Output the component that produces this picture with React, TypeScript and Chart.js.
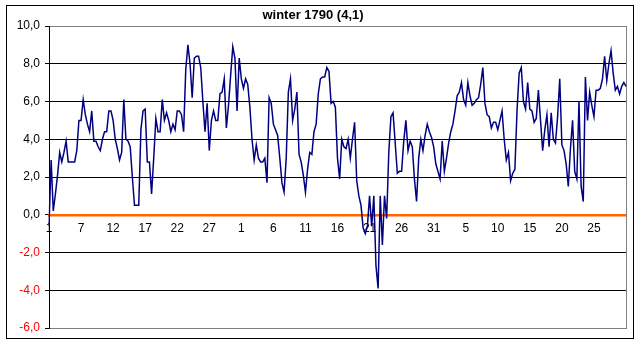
import React, { useEffect, useRef } from "react";
import { Chart, registerables } from "chart.js";

Chart.register(...registerables);

const chartTitle = "winter 1790 (4,1)";

// x-axis tick labels, one every 15 readings (3 readings a day)
const tickLabels = ["1", "7", "12", "17", "22", "27", "1", "6", "11", "16", "21", "26", "31", "5", "10", "15", "20", "25"];
const readingsPerLabel = 15;

// temperature readings (°)
const decemberTemps = [
  -0.6, 2.9, 0.2, 1.1, 2.1, 3.3, 2.8, 3.3, 3.9, 2.8,
  2.8, 2.8, 2.8, 3.4, 5.0, 5.0, 6.1, 5.3, 4.8, 4.4,
  5.5, 3.9, 3.9, 3.6, 3.4, 4.0, 4.4, 4.4, 5.5, 5.5,
  5.0, 4.0, 3.5, 2.9, 3.3, 6.1, 4.0, 3.9, 3.6, 2.0,
  0.5, 0.5, 0.5, 4.5, 5.5, 5.6, 2.8, 2.8, 1.1, 3.0,
  5.1, 4.4, 4.4, 6.1, 5.0, 5.4, 5.0, 4.4, 4.8, 4.5,
  5.5, 5.5, 5.3, 4.4, 7.7, 9.0, 8.0, 6.2, 8.3, 8.4,
  8.4, 7.8, 6.0, 4.4, 5.9, 3.4, 5.0, 5.5, 5.0, 5.0,
  6.4, 6.5, 7.2, 4.6, 5.8, 7.4, 8.9, 8.3, 5.5, 8.3,
];
const januaryTemps = [
  7.2, 6.7, 7.2, 6.9, 5.7, 4.0, 2.9, 3.7, 3.0, 2.8,
  2.8, 3.0, 1.7, 6.2, 5.9, 4.8, 4.5, 4.2, 3.0, 1.7,
  1.2, 3.0, 6.5, 7.2, 5.0, 5.6, 6.5, 3.2, 2.8, 2.1,
  1.2, 2.4, 3.3, 3.2, 4.4, 4.8, 6.4, 7.2, 7.3, 7.3,
  7.8, 7.6, 5.9, 6.0, 5.7, 3.0, 1.9, 4.0, 3.6, 3.5,
  4.0, 3.0, 4.0, 4.9, 1.8, 1.0, 0.5, -0.7, -1.0, -0.6,
  1.0, -0.6, 1.0, -2.7, -3.9, 1.0, -1.6, 1.0, -0.2, 3.3,
  5.2, 5.4, 3.8, 2.2, 2.3, 2.3, 3.9, 5.0, 3.4, 3.9,
  3.6, 1.9, 0.7, 3.0, 4.0, 3.4, 4.2, 4.8, 4.4, 4.1,
  3.6, 2.7, 2.3,
];
const februaryTemps = [
  1.9, 3.9, 2.3, 3.0, 3.8, 4.4, 4.8,
  5.5, 6.3, 6.5, 7.0, 6.1, 5.8, 7.0, 6.3, 5.8, 5.9,
  6.1, 6.2, 6.9, 7.8, 5.9, 5.3, 5.2, 4.6, 4.9, 4.9,
  4.5, 5.0, 5.5, 4.0, 2.9, 3.3, 1.8, 2.2, 2.4, 5.5,
  7.5, 7.8, 6.0, 5.6, 7.0, 5.6, 5.5, 4.9, 5.1, 6.6,
  5.0, 3.4, 4.5, 5.3, 3.6, 5.4, 4.0, 3.8, 5.2, 7.2,
  3.7, 3.4, 2.7, 1.5, 3.5, 5.0, 2.3, 1.9, 6.0, 1.5,
  0.7, 7.3, 5.0, 6.5, 5.8, 5.2, 6.6, 6.6, 6.7, 7.2,
  8.4, 7.1, 8.0, 8.7, 7.5, 6.6, 6.8, 6.4, 6.8, 7.0, 6.8,
];

const yMin = -6;
const yMax = 10;
const yStep = 2;

const FONT = "Arial, 'Liberation Sans', sans-serif";

const framePlugin = {
  id: "frame",
  beforeDraw(chart: any) {
    const { ctx, width, height } = chart;
    ctx.save();
    ctx.fillStyle = "#ffffff";
    ctx.fillRect(0, 0, width, height);
    ctx.strokeStyle = "#000000";
    ctx.lineWidth = 1;
    ctx.strokeRect(6.5, 5.5, 627, 333);
    ctx.restore();
  },
  beforeDatasetsDraw(chart: any) {
    const { ctx, chartArea } = chart;
    ctx.save();
    ctx.strokeStyle = "#808080";
    ctx.lineWidth = 1;
    const x = Math.round(chartArea.right) + 0.5;
    ctx.beginPath();
    ctx.moveTo(x, Math.round(chartArea.top));
    ctx.lineTo(x, Math.round(chartArea.bottom) + 1);
    ctx.stroke();
    ctx.restore();
  },
};

export default function App() {
  const canvasRef = useRef<HTMLCanvasElement | null>(null);

  useEffect(() => {
    const values = [...decemberTemps, ...januaryTemps, ...februaryTemps];
    const categories = values.map((_, i) =>
      i % readingsPerLabel === 0 ? tickLabels[i / readingsPerLabel] ?? "" : ""
    );
    const chart = new Chart(canvasRef.current as HTMLCanvasElement, {
      type: "line",
      data: {
        labels: categories,
        datasets: [
          {
            data: values,
            borderColor: "#000080",
            borderWidth: 1.5,
            pointRadius: 0,
            pointHoverRadius: 0,
            tension: 0,
            fill: false,
          },
        ],
      },
      options: {
        responsive: false,
        animation: false,
        devicePixelRatio: 1,
        events: [],
        layout: { padding: { left: 0, right: 16, top: 0, bottom: 16 } },
        plugins: {
          legend: { display: false },
          tooltip: { enabled: false },
          title: {
            display: true,
            text: chartTitle,
            color: "#000000",
            font: { family: FONT, size: 13, weight: "bold", lineHeight: 1.2 },
            padding: { top: 8, bottom: 2.4 },
          },
        },
        scales: {
          x: {
            type: "category",
            position: { y: 0 },
            offset: false,
            afterFit(scale: any) {
              scale.height = 0;
            },
            grid: { display: false, drawTicks: false },
            border: { display: true, color: "#FF6600", width: 2.5 },
            ticks: {
              autoSkip: false,
              maxRotation: 0,
              minRotation: 0,
              padding: 7,
              color: "#000000",
              font: { family: FONT, size: 12 },
            },
          },
          y: {
            min: yMin,
            max: yMax,
            afterFit(scale: any) {
              scale.width = 49;
            },
            grid: {
              color: (ctx: any) => {
                const v = ctx.tick ? ctx.tick.value : null;
                if (v === yMax || v === yMin) return "#808080";
                if (v === 0) return "rgba(0,0,0,0)";
                return "#000000";
              },
              tickColor: "#000000",
              tickLength: 4,
              drawTicks: true,
              lineWidth: 1,
            },
            border: { display: true, color: "#000000", width: 1 },
            ticks: {
              stepSize: yStep,
              padding: 5,
              color: (ctx: any) => (ctx.tick && ctx.tick.value < 0 ? "#FF0000" : "#000000"),
              font: { family: FONT, size: 12 },
              callback: (v: any) => Number(v).toFixed(1).replace(".", ","),
            },
          },
        },
      },
      plugins: [framePlugin],
    } as any);
    return () => chart.destroy();
  }, []);

  return (
    <div style={{ position: "absolute", left: 0, top: 0, width: 642, height: 344, background: "#fff" }}>
      <canvas ref={canvasRef} width={642} height={344} style={{ display: "block" }} />
    </div>
  );
}
